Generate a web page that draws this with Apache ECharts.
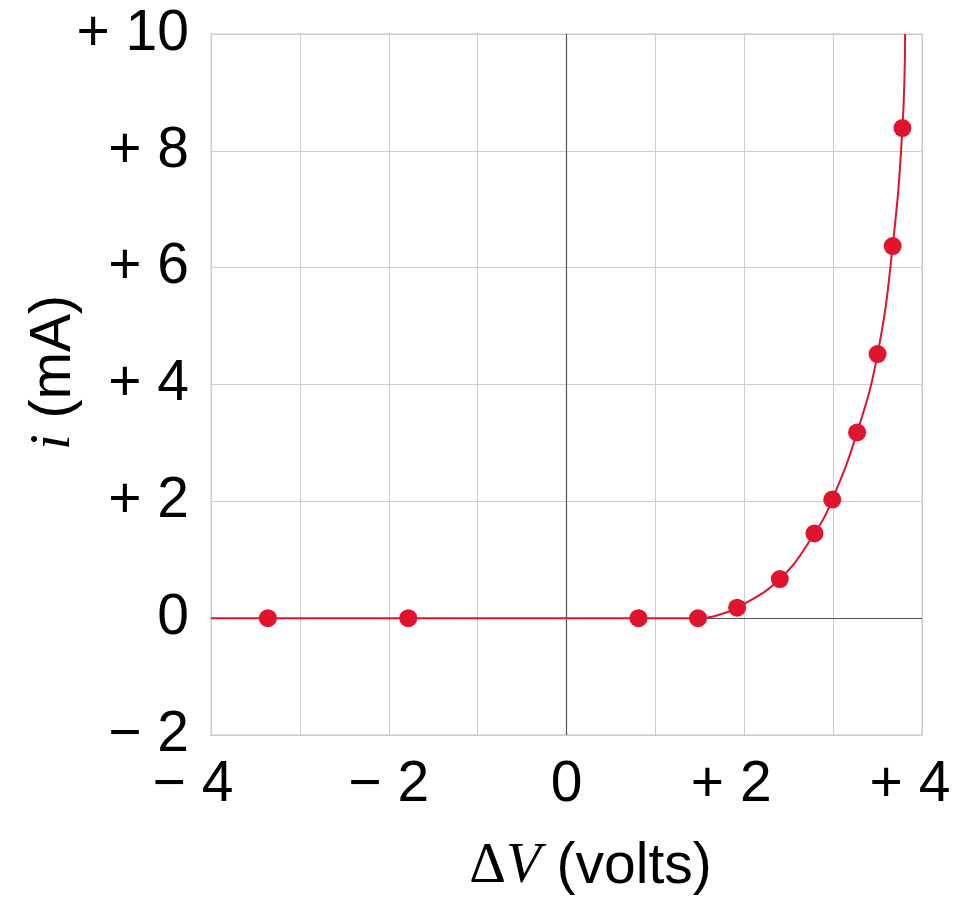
<!DOCTYPE html>
<html>
<head>
<meta charset="utf-8">
<script src="https://cdn.jsdelivr.net/npm/echarts@6/dist/echarts.min.js"></script>
<style>
html,body{margin:0;padding:0;background:#fff;}
#chart{width:977px;height:906px;}
</style>
</head>
<body>
<div id="chart"></div>
<script>
// Measured points (ΔV in volts, i in mA)
const pointV = [-3.36, -1.78, 0.81, 1.48, 1.92, 2.40, 2.79, 2.99, 3.27, 3.50, 3.67, 3.78];
const pointI = [0, 0, 0, 0, 0.18, 0.67, 1.45, 2.03, 3.18, 4.52, 6.37, 8.39];
// Fitted curve
const curveV = [-4, -3.36, -1.78, 0.81, 1.48, 1.65, 1.92, 2.40, 2.79, 2.99, 3.27, 3.50, 3.67, 3.78, 3.81];
const curveI = [0, 0, 0, 0, 0, 0.03, 0.18, 0.67, 1.45, 2.03, 3.18, 4.52, 6.37, 8.39, 10];
// Tick labels
const xTickLabels = {'-4': '− 4', '-2': '− 2', '0': '0', '2': '+ 2', '4': '+ 4'};
const yTickLabels = {'-2': '− 2', '0': '0', '2': '+ 2', '4': '+ 4', '6': '+ 6', '8': '+ 8', '10': '+ 10'};

const red = '#e0142c';
const font = '"Liberation Sans", Arial, Helvetica, sans-serif';
const serif = '"Liberation Serif", "DejaVu Serif", serif';
const FS = 57;

const chart = echarts.init(document.getElementById('chart'), null, {renderer: 'canvas'});
chart.setOption({
  animation: false,
  backgroundColor: '#fff',
  grid: {left: 211, right: 55, top: 34, height: 701, show: true, borderColor: '#e2e2e2', borderWidth: 2, containLabel: false},
  xAxis: {
    type: 'value', min: -4, max: 4, interval: 1,
    axisLine: {show: false}, axisTick: {show: false},
    splitLine: {show: true, lineStyle: {color: '#cccccc', width: 1}},
    axisLabel: {
      margin: 22, color: '#000', fontSize: FS, fontFamily: font,
      formatter: v => {
        const t = xTickLabels[String(v)];
        if (!t) return '';
        const cls = {'-4': 'a', '2': 'b', '4': 'c'}[String(v)] || 'n';
        return '{' + cls + '|' + t + '}';
      },
      rich: {
        n: {fontSize: FS, fontFamily: font, color: '#000'},
        a: {fontSize: FS, fontFamily: font, color: '#000', padding: [0, 36, 0, 0]},
        b: {fontSize: FS, fontFamily: font, color: '#000', padding: [0, 26, 0, 0]},
        c: {fontSize: FS, fontFamily: font, color: '#000', padding: [0, 24, 0, 0]}
      }
    },
    name: '{d|Δ}{v|V} (volts)',
    nameLocation: 'middle', nameGap: 104, nameMoveOverlap: false,
    nameTextStyle: {
      color: '#000', fontSize: FS, fontFamily: font, padding: [0, 0, 0, 48],
      rich: {
        d: {fontSize: FS, fontFamily: serif, color: '#000'},
        v: {fontSize: FS, fontFamily: serif, fontStyle: 'italic', color: '#000'}
      }
    }
  },
  yAxis: {
    type: 'value', min: -2, max: 10, interval: 2,
    axisLine: {show: false}, axisTick: {show: false},
    splitLine: {show: true, lineStyle: {color: '#cccccc', width: 1}},
    axisLabel: {
      margin: 22, color: '#000', fontSize: FS, fontFamily: font,
      formatter: v => yTickLabels[String(v)] || ''
    },
    name: '{i|i} (mA)',
    nameLocation: 'middle', nameGap: 128, nameMoveOverlap: false,
    nameTextStyle: {
      color: '#000', fontSize: FS, fontFamily: font, padding: [0, 0, 0, 24],
      rich: {
        i: {fontSize: FS, fontFamily: serif, fontStyle: 'italic', color: '#000'}
      }
    }
  },
  series: [
    {
      type: 'line',
      data: curveV.map((v, k) => [v, curveI[k]]),
      smooth: 0.45,
      showSymbol: false, symbol: 'none',
      lineStyle: {color: red, width: 2},
      z: 3,
      markLine: {
        silent: true, symbol: ['none', 'none'],
        label: {show: false},
        lineStyle: {color: '#555', width: 1.2, type: 'solid'},
        data: [{xAxis: 0}, {yAxis: 0}],
        z: 2
      }
    },
    {
      type: 'scatter',
      data: pointV.map((v, k) => [v, pointI[k]]),
      symbolSize: 18,
      itemStyle: {color: red, opacity: 1},
      z: 4
    }
  ]
});
</script>
</body>
</html>
